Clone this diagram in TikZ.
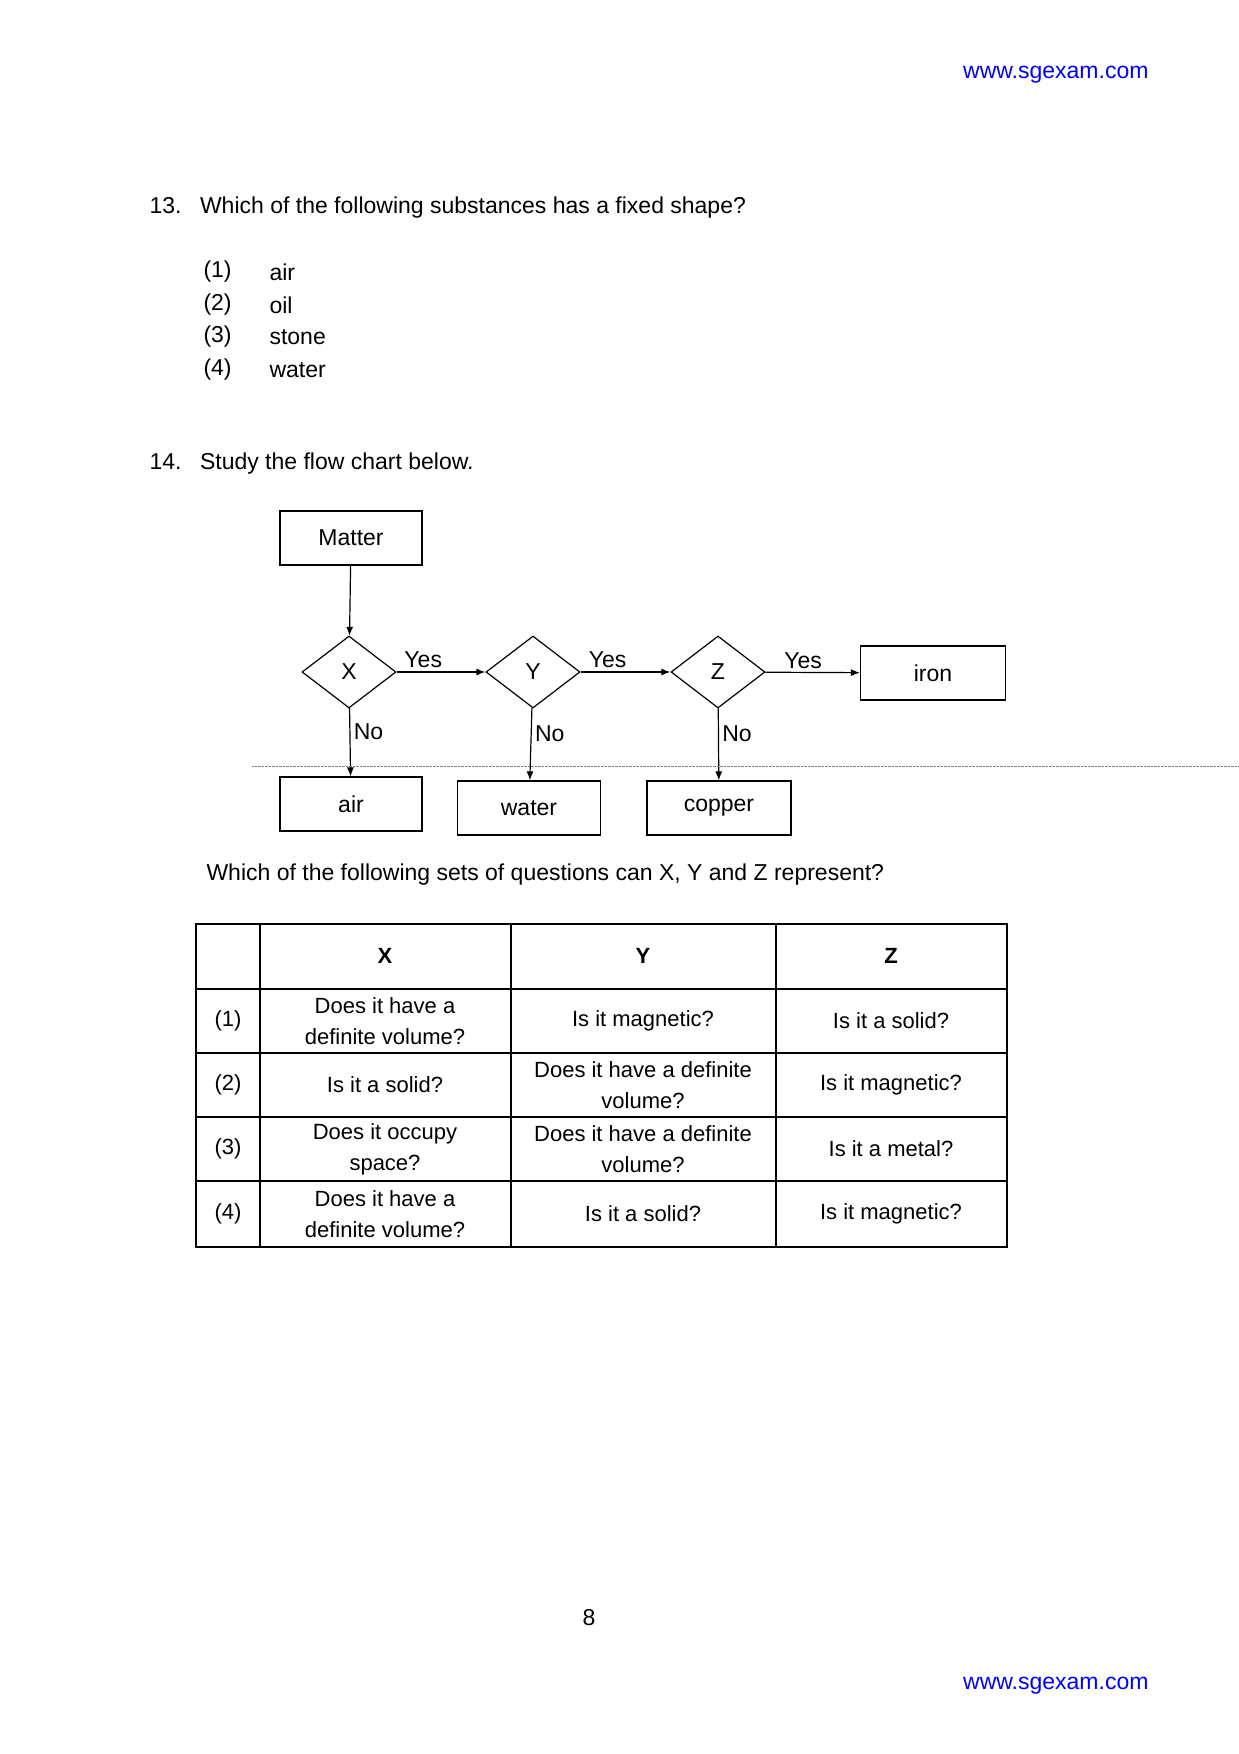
\documentclass[tikz,border=0pt]{standalone}
\usepackage{fontspec}
\setmainfont{Liberation Sans}
\usetikzlibrary{shapes.geometric,arrows.meta}
\begin{document}
\begin{tikzpicture}[x=1pt,y=-1pt,
  every node/.style={font=\fontsize{23}{28}\selectfont},
  box/.style={draw,line width=1.2pt,minimum width=142pt,minimum height=54pt,inner sep=0pt},
  dia/.style={draw,line width=1.2pt,diamond,minimum width=94pt,minimum height=72pt,inner sep=0pt},
  arr/.style={line width=1.2pt,-{Latex[length=9pt,width=7pt]}},
  cell/.style={align=center,font=\fontsize{22}{31}\selectfont}]
\useasboundingbox (0,0) rectangle (1239,1754);
\fill[white] (0,0) rectangle (1239,1754);
\node[blue,anchor=east] (w1) at (1152,75) {www.sgexam.com};
\node[anchor=west] (q13) at (146,208) {13.\hspace{10pt} Which of the following substances has a fixed shape?};
\foreach \i/\t/\y in {1/air/272,2/oil/305,3/stone/337,4/water/370}{
  \node[anchor=west] (o\i) at (200,\y) {(\i)};
  \node[anchor=west] (t\i) at (266,\y) {\t};}
\node[anchor=west] (q14) at (146,464) {14.\hspace{10pt} Study the flow chart below.};
\node[box] (matter) at (351,538) {Matter};
\node[dia] (X) at (349,672) {X};
\node[dia] (Y) at (533,672) {Y};
\node[dia] (Z) at (718,672) {Z};
\node[box,minimum width=145pt] (iron) at (933,673) {iron};
\node[box] (air) at (351,804) {air};
\node[box,minimum width=143pt] (water) at (529,808) {water};
\node[box,minimum width=144pt] (copper) at (719,808) {copper};
\draw[arr] (matter) -- (X);
\draw[arr] (X) -- node[above,pos=0.3] {Yes} (Y);
\draw[arr] (Y) -- node[above,pos=0.3] {Yes} (Z);
\draw[arr] (Z) -- node[above,pos=0.4] {Yes} (iron);
\draw[arr] (X) -- node[right,pos=0.35] {No} (air);
\draw[arr] (Y) -- node[right,pos=0.35] {No} (water);
\draw[arr] (Z) -- node[right,pos=0.35] {No} (copper);
\coordinate (d1) at (252,766); \coordinate (d2) at (1239,766);
\draw[densely dotted,gray] (d1) -- (d2);
\node[anchor=west] (q) at (203,875) {Which of the following sets of questions can X, Y and Z represent?};
\draw[line width=1.2pt] (196,924) rectangle (1007,1247);
\foreach \x in {260,511,776} \draw[line width=1.2pt] (\x,924) -- (\x,1247);
\foreach \y in {989,1053,1117,1181} \draw[line width=1.2pt] (196,\y) -- (1007,\y);
\node[cell] (hx) at (385,956) {\textbf{X}};
\node[cell] (hy) at (643,956) {\textbf{Y}};
\node[cell] (hz) at (891,956) {\textbf{Z}};
\foreach \i/\y/\a/\b/\c in {
 1/1021/{Does it have a\\definite volume?}/{Is it magnetic?}/{Is it a solid?},
 2/1085/{Is it a solid?}/{Does it have a definite\\volume?}/{Is it magnetic?},
 3/1149/{Does it occupy\\space?}/{Does it have a definite\\volume?}/{Is it a metal?},
 4/1214/{Does it have a\\definite volume?}/{Is it a solid?}/{Is it magnetic?}}{
 \node[cell] (n\i) at (228,\y) {(\i)};
 \node[cell] (a\i) at (385,\y) {\a};
 \node[cell] (b\i) at (643,\y) {\b};
 \node[cell] (c\i) at (891,\y) {\c};}
\node (pg) at (589,1618) {8};
\node[blue,anchor=east] (w2) at (1152,1686) {www.sgexam.com};
\end{tikzpicture}
\end{document}
